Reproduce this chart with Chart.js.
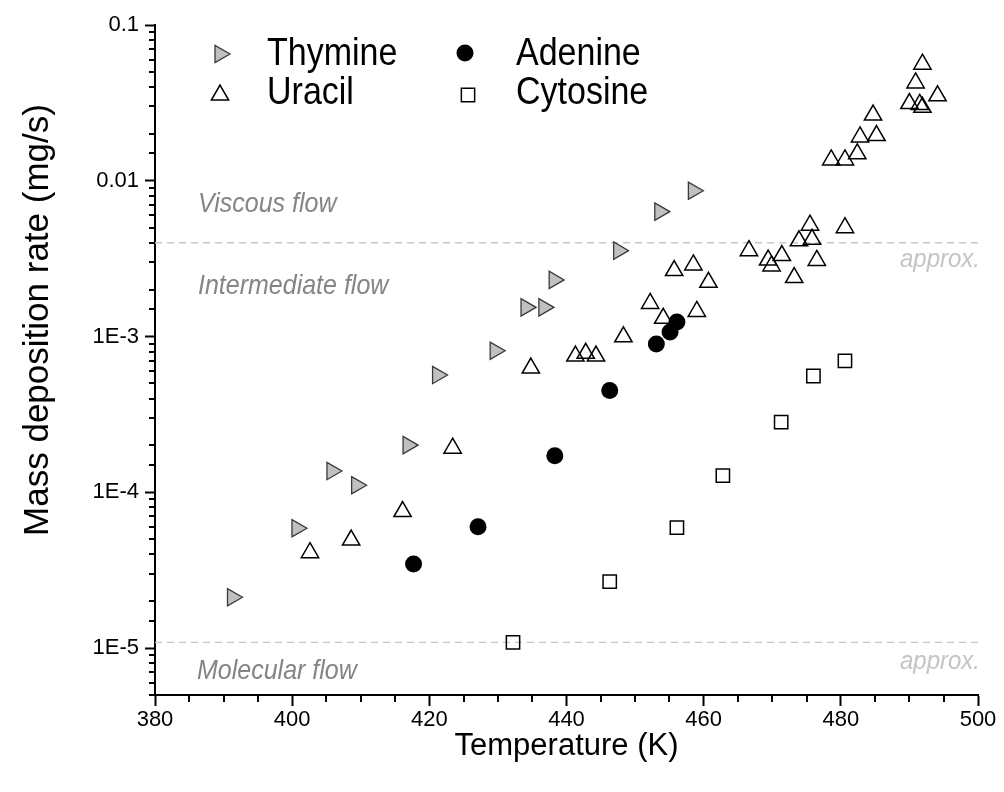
<!DOCTYPE html>
<html>
<head>
<meta charset="utf-8">
<title>Mass deposition rate vs temperature</title>
<script src="https://cdn.jsdelivr.net/npm/chart.js"></script>
<style>
  html, body { margin: 0; padding: 0; background: #fff; }
  canvas { display: block; }
</style>
</head>
<body>
<canvas id="chart" width="1004" height="792"></canvas>
<script>
// Data (temperature in K, rate in mg/s)
const seriesNames = ['Thymine', 'Uracil', 'Adenine', 'Cytosine'];

const thymineTemp = [391.3, 400.7, 405.8, 409.4, 416.9, 421.2, 429.6, 434.1, 436.7, 438.2, 447.6, 453.6, 458.5];
const thymineRate = [2.12e-5, 5.88e-5, 1.37e-4, 1.11e-4, 2.01e-4, 5.66e-4, 8.11e-4, 1.54e-3, 1.54e-3, 2.31e-3, 3.56e-3, 6.34e-3, 8.63e-3];

const uracilTemp = [402.6, 408.6, 416.1, 423.4, 434.8, 441.3, 442.8, 444.3, 448.3, 452.2, 454.1, 455.7, 458.5,
  459.0, 460.7, 466.6, 469.4, 471.4, 469.9, 473.2, 476.5, 473.9, 475.8, 475.5, 480.6, 478.6, 480.6, 482.4,
  482.8, 485.2, 484.7, 490.0, 491.5, 491.9, 494.1, 490.9, 491.9];
const uracilRate = [4.10e-5, 4.94e-5, 7.52e-5, 1.92e-4, 6.28e-4, 7.50e-4, 7.81e-4, 7.50e-4, 9.97e-4, 1.63e-3, 1.31e-3, 2.65e-3, 2.88e-3,
  1.45e-3, 2.23e-3, 3.56e-3, 3.10e-3, 3.31e-3, 2.84e-3, 2.39e-3, 3.08e-3, 4.12e-3, 4.21e-3, 5.19e-3, 5.00e-3, 1.36e-2, 1.36e-2, 1.49e-2,
  1.91e-2, 1.95e-2, 2.64e-2, 3.13e-2, 3.09e-2, 2.96e-2, 3.51e-2, 4.25e-2, 5.60e-2];

const adenineTemp = [417.7, 427.1, 438.3, 446.3, 453.1, 455.1, 456.1];
const adenineRate = [3.47e-5, 6.01e-5, 1.72e-4, 4.51e-4, 8.95e-4, 1.07e-3, 1.24e-3];

const cytosineTemp = [432.2, 446.3, 456.1, 462.8, 471.3, 476.0, 480.6];
const cytosineRate = [1.09e-5, 2.67e-5, 5.93e-5, 1.28e-4, 2.82e-4, 5.58e-4, 6.97e-4];

// flow regime boundaries (approx.)
const viscousLimit = 4.0e-3;
const molecularLimit = 1.09e-5;

// axes
const xTickValues = [380, 400, 420, 440, 460, 480, 500];
const yTickValues = [1e-5, 1e-4, 1e-3, 1e-2, 1e-1];
const yTickLabels = ['1E-5', '1E-4', '1E-3', '0.01', '0.1'];

const FONT = "'Liberation Sans', Arial, Helvetica, sans-serif";

const toPoints = (xs, ys) => xs.map((x, i) => ({ x: x, y: ys[i] }));
const isDecade = v => Math.abs(Math.log10(v) - Math.round(Math.log10(v))) < 1e-6;

// marker look, shared by plot and legend
const markers = {
  Thymine:  { style: 'triangle', rot: 90, r: 10, fill: '#c0c0c0', stroke: '#3a3a3a', lw: 1.3 },
  Uracil:   { style: 'triangle', rot: 0,  r: 10, fill: 'rgba(0,0,0,0)', stroke: '#000', lw: 1.5 },
  Adenine:  { style: 'circle',   rot: 0,  r: 8.5, fill: '#000', stroke: '#000', lw: 0 },
  Cytosine: { style: 'rect',     rot: 0,  r: 9.4, fill: 'rgba(0,0,0,0)', stroke: '#000', lw: 1.5 }
};

function scatterSet(name, xs, ys, order) {
  const m = markers[name];
  return {
    label: name,
    data: toPoints(xs, ys),
    order: order,
    pointStyle: m.style,
    pointRotation: m.rot,
    pointRadius: m.r,
    pointHoverRadius: m.r,
    pointBackgroundColor: m.fill,
    pointBorderColor: m.stroke,
    pointBorderWidth: m.lw,
    backgroundColor: m.fill,
    borderColor: m.stroke,
    showLine: false
  };
}

function limitLine(value) {
  return {
    type: 'line',
    label: '',
    data: [{ x: 380, y: value }, { x: 500, y: value }],
    order: 10,
    borderColor: '#c8c8c8',
    borderWidth: 1.3,
    borderDash: [7, 5],
    pointRadius: 0,
    fill: false
  };
}

// small marker painter for the legend (same geometry as Chart.js)
function paintMarker(ctx, m, x, y) {
  ctx.save();
  ctx.beginPath();
  if (m.style === 'circle') {
    ctx.arc(x, y, m.r, 0, Math.PI * 2);
  } else if (m.style === 'rect') {
    const s = Math.SQRT1_2 * m.r;
    ctx.rect(x - s, y - s, 2 * s, 2 * s);
  } else {
    let rad = m.rot * Math.PI / 180;
    for (let i = 0; i < 3; i++) {
      const px = x + Math.sin(rad) * m.r, py = y - Math.cos(rad) * m.r;
      i ? ctx.lineTo(px, py) : ctx.moveTo(px, py);
      rad += 2 * Math.PI / 3;
    }
    ctx.closePath();
  }
  ctx.fillStyle = m.fill;
  ctx.fill();
  if (m.lw) { ctx.lineWidth = m.lw; ctx.strokeStyle = m.stroke; ctx.stroke(); }
  ctx.restore();
}

// stretched text (the original figure is a bit taller than wide)
function tallText(ctx, text, x, y, font, color, align, sy) {
  ctx.save();
  ctx.font = font;
  ctx.fillStyle = color;
  ctx.textAlign = align;
  ctx.textBaseline = 'alphabetic';
  ctx.translate(x, y);
  ctx.scale(1, sy);
  ctx.fillText(text, 0, 0);
  ctx.restore();
}

const legendBox = {
  id: 'legendBox',
  afterDraw(chart) {
    const ctx = chart.ctx;
    const slots = [
      { name: seriesNames[0], mx: 220, my: 54, tx: 267, ty: 65 },
      { name: seriesNames[1], mx: 220, my: 95, tx: 267, ty: 104 },
      { name: seriesNames[2], mx: 465, my: 53, tx: 516, ty: 65 },
      { name: seriesNames[3], mx: 468, my: 95, tx: 516, ty: 104 }
    ];
    slots.forEach(s => {
      paintMarker(ctx, markers[s.name], s.mx, s.my);
      tallText(ctx, s.name, s.tx, s.ty, '34px ' + FONT, '#000', 'left', 1.12);
    });
  }
};

const regimeLabels = {
  id: 'regimeLabels',
  afterDatasetsDraw(chart) {
    const ctx = chart.ctx;
    const a = chart.chartArea;
    const f = 'italic 25px ' + FONT;
    tallText(ctx, 'Viscous flow', a.left + 43, 212, f, '#858585', 'left', 1.12);
    tallText(ctx, 'Intermediate flow', a.left + 43, 294, f, '#858585', 'left', 1.12);
    tallText(ctx, 'Molecular flow', a.left + 42, 679, f, '#858585', 'left', 1.12);
    tallText(ctx, 'approx.', a.right + 2, 267, 'italic 24px ' + FONT, '#c4c4c4', 'right', 1.1);
    tallText(ctx, 'approx.', a.right + 2, 669, 'italic 24px ' + FONT, '#c4c4c4', 'right', 1.1);
  }
};

// minor ticks (shorter than the labelled ones)
const minorTicks = {
  id: 'minorTicks',
  afterDraw(chart) {
    const { ctx, scales: { x, y } } = chart;
    ctx.save();
    ctx.strokeStyle = '#000';
    ctx.lineWidth = 2;
    ctx.beginPath();
    x.ticks.forEach(t => {
      if (xTickValues.includes(t.value)) return;
      const px = Math.round(x.getPixelForValue(t.value));
      ctx.moveTo(px, x.top);
      ctx.lineTo(px, x.top + 7);
    });
    y.ticks.forEach(t => {
      if (isDecade(t.value)) return;
      const py = Math.round(y.getPixelForValue(t.value));
      ctx.moveTo(y.right, py);
      ctx.lineTo(y.right - 6, py);
    });
    ctx.stroke();
    ctx.restore();
  }
};

const yTitle = {
  id: 'yTitle',
  afterDraw(chart) {
    const ctx = chart.ctx;
    ctx.save();
    ctx.translate(38, 320);
    ctx.rotate(-Math.PI / 2);
    ctx.font = '35px ' + FONT;
    ctx.fillStyle = '#000';
    ctx.textAlign = 'center';
    ctx.textBaseline = 'middle';
    ctx.fillText('Mass deposition rate (mg/s)', 0, 0);
    ctx.restore();
  }
};

const ctx = document.getElementById('chart').getContext('2d');
new Chart(ctx, {
  type: 'scatter',
  data: {
    datasets: [
      scatterSet('Thymine', thymineTemp, thymineRate, 2),
      scatterSet('Uracil', uracilTemp, uracilRate, 3),
      scatterSet('Adenine', adenineTemp, adenineRate, 1),
      scatterSet('Cytosine', cytosineTemp, cytosineRate, 4),
      limitLine(viscousLimit),
      limitLine(molecularLimit)
    ]
  },
  options: {
    responsive: false,
    animation: false,
    devicePixelRatio: 1,
    layout: { padding: { top: 25, right: 26, left: 0, bottom: 0 } },
    plugins: {
      legend: { display: false },
      tooltip: { enabled: false }
    },
    scales: {
      x: {
        type: 'linear',
        min: 380,
        max: 500,
        afterFit: s => { s.height = 97; },
        ticks: {
          stepSize: 5,
          autoSkip: false,
          maxRotation: 0,
          padding: 1,
          color: '#000',
          font: { family: FONT, size: 22 },
          callback: v => xTickValues.includes(v) ? String(v) : ''
        },
        grid: {
          drawOnChartArea: false,
          tickLength: 11,
          tickWidth: 2,
          tickColor: c => (c.tick && xTickValues.includes(c.tick.value)) ? '#000' : 'rgba(0,0,0,0)'
        },
        border: { color: '#000', width: 2 },
        title: {
          display: true,
          text: 'Temperature (K)',
          color: '#000',
          font: { family: FONT, size: 31 },
          padding: { top: 0, bottom: 27 }
        }
      },
      y: {
        type: 'logarithmic',
        min: 5e-6,
        max: 0.1,
        afterFit: s => { s.width = 155; },
        ticks: {
          autoSkip: false,
          padding: 6,
          color: '#000',
          font: { family: FONT, size: 22 },
          callback: v => {
            const i = yTickValues.findIndex(t => Math.abs(Math.log10(v) - Math.log10(t)) < 1e-6);
            return i >= 0 ? yTickLabels[i] : '';
          }
        },
        grid: {
          drawOnChartArea: false,
          tickLength: 10,
          tickWidth: 2,
          tickColor: c => (c.tick && isDecade(c.tick.value)) ? '#000' : 'rgba(0,0,0,0)'
        },
        border: { color: '#000', width: 2 }
      }
    }
  },
  plugins: [minorTicks, regimeLabels, legendBox, yTitle]
});
</script>
</body>
</html>
